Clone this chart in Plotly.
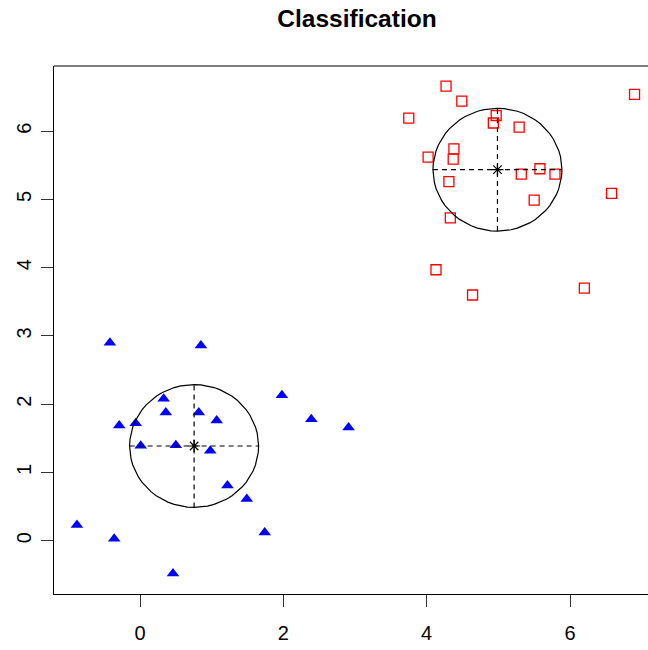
import numpy as np
import plotly.graph_objects as go

# Class A (blue filled triangles)
class_a_x = [-0.42, 0.85, 0.33, 0.36, 0.82, -0.29, -0.06, 1.07, 1.98, 2.39,
             2.91, 0.01, 0.50, 0.98, 1.22, 1.49, 1.74, -0.88, -0.36, 0.46]
class_a_y = [2.90, 2.86, 2.08, 1.88, 1.88, 1.69, 1.72, 1.76, 2.13, 1.78,
             1.66, 1.39, 1.40, 1.32, 0.81, 0.61, 0.12, 0.23, 0.03, -0.48]

# Class B (red open squares)
class_b_x = [4.27, 4.49, 3.75, 6.90, 4.97, 4.93, 5.29, 4.38, 4.37, 4.02,
             5.32, 5.58, 5.79, 4.31, 5.50, 6.58, 4.33, 4.13, 4.64, 6.20]
class_b_y = [6.66, 6.44, 6.19, 6.54, 6.23, 6.12, 6.06, 5.74, 5.59, 5.62,
             5.37, 5.45, 5.37, 5.26, 4.99, 5.09, 4.73, 3.97, 3.60, 3.70]

radius = 0.9
x_ticks = [0, 2, 4, 6]
y_ticks = [0, 1, 2, 3, 4, 5, 6]

FONT = "Liberation Sans, Arial, Helvetica, sans-serif"

fig = go.Figure()

fig.add_trace(go.Scatter(
    x=class_a_x, y=class_a_y, mode="markers",
    marker=dict(symbol="triangle-up", size=11, color="#0000FF",
                line=dict(width=0)),
    showlegend=False, hoverinfo="skip"))

fig.add_trace(go.Scatter(
    x=class_b_x, y=class_b_y, mode="markers",
    marker=dict(symbol="square-open", size=10, color="#FF0000",
                line=dict(width=1.3, color="#FF0000")),
    showlegend=False, hoverinfo="skip"))

# Class centres with a circle and dashed cross of the given radius
theta = np.linspace(0, 2 * np.pi, 61)
for xs, ys in [(class_a_x, class_a_y), (class_b_x, class_b_y)]:
    cx, cy = float(np.mean(xs)), float(np.mean(ys))
    fig.add_trace(go.Scatter(
        x=cx + radius * np.cos(theta), y=cy + radius * np.sin(theta),
        mode="lines", line=dict(color="black", width=1.2),
        showlegend=False, hoverinfo="skip"))
    fig.add_trace(go.Scatter(
        x=[cx - radius, cx + radius], y=[cy, cy], mode="lines",
        line=dict(color="black", width=1.2, dash="5px,4px"),
        showlegend=False, hoverinfo="skip"))
    fig.add_trace(go.Scatter(
        x=[cx, cx], y=[cy - radius, cy + radius], mode="lines",
        line=dict(color="black", width=1.2, dash="5px,4px"),
        showlegend=False, hoverinfo="skip"))
    fig.add_trace(go.Scatter(
        x=[cx], y=[cy], mode="markers",
        marker=dict(symbol="asterisk-open", size=10, color="black",
                    line=dict(color="black", width=1.2)),
        showlegend=False, hoverinfo="skip"))

fig.update_layout(
    width=648, height=650,
    margin=dict(l=54, r=0, t=66, b=56),
    paper_bgcolor="white", plot_bgcolor="white",
    font=dict(family=FONT, color="black", size=20),
    title=dict(text="<b>Classification</b>", xref="container", x=357 / 648,
               xanchor="center", yref="container", y=1 - 18 / 650,
               yanchor="middle", font=dict(size=24.5, family=FONT)),
    xaxis=dict(range=[-1.2, 7.088], tickvals=x_ticks,
               ticktext=[str(v) for v in x_ticks],
               showgrid=False, zeroline=False, showline=True,
               linecolor="black", linewidth=1, ticks="outside",
               ticklen=12, tickcolor="#333333", tickwidth=1,
               ticklabelstandoff=9, tickfont=dict(size=20)),
    yaxis=dict(range=[-0.780, 6.955], tickvals=y_ticks,
               ticktext=[str(v) for v in y_ticks],
               showgrid=False, zeroline=False, showline=True,
               linecolor="black", linewidth=1, ticks="outside",
               ticklen=12, tickcolor="#333333", tickwidth=1,
               tickangle=-90, ticklabelstandoff=2, tickfont=dict(size=20)),
    shapes=[dict(type="line", xref="paper", yref="paper", x0=0, x1=1,
                 y0=1, y1=1, line=dict(color="black", width=1))],
)

fig.write_html("out.html")
